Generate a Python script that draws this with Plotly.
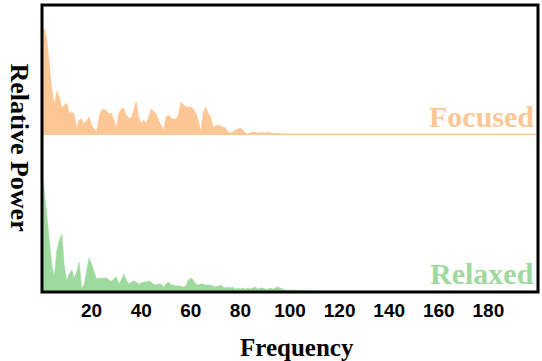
import plotly.graph_objects as go

freq = [0.5] + list(range(1, 201))

focused_low = [107, 106, 95, 70, 45, 30, 44, 38, 27, 30, 32,
               22, 23, 21, 7, 15, 16, 11, 14, 18, 10,
               6, 4, 18, 25, 26, 24, 21, 22, 15, 8,
               22, 26, 27, 20, 17, 17, 25, 34, 18, 12,
               15, 12, 18, 26, 24, 21, 15, 10, 5, 18,
               20, 17, 16, 16, 20, 33, 30, 28, 28, 28,
               26, 22, 15, 4, 22, 28, 22, 18, 8, 9,
               10, 9, 8, 7, 3, 2, 3, 5, 6, 7,
               5, 2, 1, 2, 3, 3, 2, 2, 3, 2,
               3, 2, 2, 1.5, 2, 1.5, 1, 1.5, 1, 1]
focused_tail = [1, 1.5, 1, 1, 1.5, 1, 1, 1, 1.5, 1,
                1, 1, 1.5, 1, 1, 1, 1, 1.5, 1, 1,
                1, 1, 1, 1.5, 1, 1, 1, 1, 1, 1.5,
                1, 1, 1, 1, 1.5, 1, 1, 1, 1, 1,
                1.5, 1, 1, 1, 1, 1, 1, 1.5, 1, 1,
                1, 1, 1, 1, 1, 1.5, 1, 1, 1, 1,
                1, 1, 1.5, 1, 1, 1, 1, 1, 1, 1,
                1.5, 1, 1, 1, 1, 1, 1, 1, 1.5, 1,
                1, 1, 1, 1, 1, 1, 1.5, 1, 1, 1,
                1, 1, 1, 1, 1.5, 1, 1, 1, 1, 1]
focused = focused_low + focused_tail

relaxed_low = [112, 100, 75, 55, 26, 16, 42, 52, 58, 26, 11,
               18, 22, 14, 20, 30, 3, 8, 20, 34, 28,
               20, 13, 14, 14, 14, 14, 12, 11, 13, 15,
               8, 12, 18, 12, 8, 10, 11, 10, 8, 9,
               10, 10, 11, 10, 8, 7, 8, 8, 5, 8,
               10, 7, 7, 6, 6, 6, 5, 6, 12, 14,
               12, 8, 7, 8, 8, 7, 7, 7, 6, 5,
               6, 7, 5, 4, 5, 4, 5, 3, 4, 3,
               4, 3, 4, 3, 4, 5, 3, 4, 4, 3,
               3, 4, 3, 4, 5, 4, 3, 2, 2, 2]
relaxed_tail = [2, 1.5, 2, 1.5, 1.5, 2, 1.5, 1.5, 1, 1.5,
                1, 1.5, 1, 1, 1.5, 1, 1, 1, 1.5, 1,
                1, 1, 1, 1.5, 1, 1, 1, 1, 1, 1,
                1, 1, 1, 1, 1.5, 1, 1, 1, 1, 1,
                1, 1, 1, 1, 1, 1, 1, 1.5, 1, 1,
                1, 1, 1, 1, 1, 1, 1, 1, 1, 1,
                1, 1, 1.5, 1, 1, 1, 1, 1, 1, 1,
                1, 1, 1, 1, 1, 1, 1, 1, 1, 1,
                1, 1, 1, 1, 1, 1, 1, 1, 1, 1,
                1, 1, 1, 1, 1, 1, 1, 1, 1, 1]
relaxed = relaxed_low + relaxed_tail

tick_vals = [20, 40, 60, 80, 100, 120, 140, 160, 180]
tick_text = ["20", "40", "60", "80", "100", "120", "140", "160", "180"]

ORANGE = "#FCC794"
GREEN = "#9ED99D"
SERIF = "Liberation Serif, Times New Roman, serif"
SANS = "Liberation Sans, Arial, sans-serif"

split = 0.547

fig = go.Figure()
fig.add_trace(go.Scatter(x=freq, y=relaxed, mode="lines", fill="tozeroy",
                         fillcolor=GREEN, line=dict(color=GREEN, width=0.5),
                         xaxis="x", yaxis="y", showlegend=False, hoverinfo="skip"))
fig.add_trace(go.Scatter(x=freq, y=focused, mode="lines", fill="tozeroy",
                         fillcolor=ORANGE, line=dict(color=ORANGE, width=0.5),
                         xaxis="x", yaxis="y2", showlegend=False, hoverinfo="skip"))

fig.update_layout(
    width=542, height=361,
    margin=dict(l=42, r=4, t=5, b=69),
    paper_bgcolor="white", plot_bgcolor="white",
    xaxis=dict(range=[0, 200], tickvals=tick_vals, ticktext=tick_text,
               showgrid=False, zeroline=False, showline=False, ticks="",
               ticklabelstandoff=5,
               tickfont=dict(family=SANS, size=19, color="black", weight="bold")),
    yaxis=dict(domain=[0, split], range=[0, 157], visible=False),
    yaxis2=dict(domain=[split, 1], range=[0, 130], visible=False),
    shapes=[dict(type="rect", xref="paper", yref="paper", x0=0, x1=1, y0=0, y1=1,
                 line=dict(color="black", width=3))],
    annotations=[
        dict(text="<b>Focused</b>", xref="paper", yref="paper", x=1, y=(292 - 116) / 287,
             xanchor="right", yanchor="middle", xshift=-2, showarrow=False,
             font=dict(family=SERIF, size=30, color=ORANGE)),
        dict(text="<b>Relaxed</b>", xref="paper", yref="paper", x=1, y=(292 - 273) / 287,
             xanchor="right", yanchor="middle", xshift=-2, showarrow=False,
             font=dict(family=SERIF, size=30, color=GREEN)),
        dict(text="<b>Frequency</b>", xref="paper", yref="paper", x=(297 - 42) / 496,
             y=(292 - 347) / 287, xanchor="center", yanchor="middle", showarrow=False,
             font=dict(family=SERIF, size=25, color="black")),
        dict(text="<b>Relative Power</b>", xref="paper", yref="paper", x=(19.5 - 42) / 496,
             y=(292 - 147) / 287, xanchor="center", yanchor="middle", showarrow=False,
             textangle=90, font=dict(family=SERIF, size=26, color="black")),
    ],
)

fig.write_html("out.html", config={"displayModeBar": False},
               post_script="document.body.style.margin='0px';")
